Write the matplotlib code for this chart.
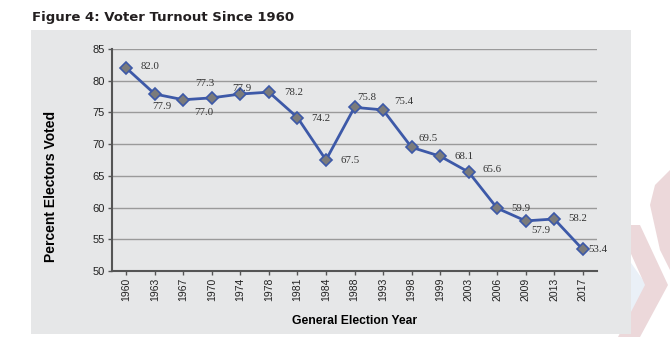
import numpy as np
import matplotlib
matplotlib.use('agg')
import matplotlib.pyplot as plt
from matplotlib.patches import Rectangle, Polygon

#------------------------------------------------------------------------------
# DATA
#------------------------------------------------------------------------------

years = ['1960', '1963', '1967', '1970', '1974', '1978', '1981', '1984', '1988',
         '1993', '1998', '1999', '2003', '2006', '2009', '2013', '2017']
turnout = [82.0, 77.9, 77.0, 77.3, 77.9, 78.2, 74.2, 67.5, 75.8,
           75.4, 69.5, 68.1, 65.6, 59.9, 57.9, 58.2, 53.4]

# label offsets (points) from each marker
label_dx = [17, 5, 15, -5, 1, 18, 17, 17, 9, 15, 12, 17, 17, 17, 11, 17, 11]
label_dy = [1, -9, -9, 10, 4, 0, -1, 0, 7, 6, 6, 0, 2, 0, -7, 0, 0]

#------------------------------------------------------------------------------
# SETTINGS
#------------------------------------------------------------------------------

linecol = '#3d59a8'
panelcol = '#e6e7e8'
gridcol = '#9a9a9a'

fig = plt.figure(figsize=(6.7, 3.37), dpi=100)
fig.patch.set_facecolor('white')

# faint watermark chevrons on the right
W, H = 670.0, 337.0
def fpoly(pts, color):
    xy = [(x / W, 1 - y / H) for x, y in pts]
    fig.patches.append(Polygon(xy, closed=True, transform=fig.transFigure,
                               facecolor=color, edgecolor='none', zorder=-3))
fpoly([(600, 250), (622, 250), (650, 290), (622, 330), (600, 330), (625, 290)], '#eaf0f7')
fpoly([(618, 225), (640, 225), (668, 285), (640, 337), (618, 337), (645, 285)], '#ecd8da')
fpoly([(655, 185), (670, 170), (670, 270), (660, 250), (650, 205)], '#ecd8da')

# grey panel
fig.patches.append(Rectangle((31 / W, 1 - 334 / H), 600 / W, 304 / H,
                             transform=fig.transFigure, facecolor=panelcol,
                             edgecolor='none', zorder=-2))

fig.text(32 / W, 1 - 17 / H, 'Figure 4: Voter Turnout Since 1960', fontsize=9.5,
         fontweight='bold', color='#231f20', family='DejaVu Sans', va='center')

ax = fig.add_axes([112 / W, 1 - 271 / H, 485 / W, 222 / H])
ax.set_facecolor('none')
x = np.arange(len(years))

ax.plot(x, turnout, color=linecol, lw=2, marker='D', markersize=6.5,
        markerfacecolor='#7b7b7b', markeredgecolor=linecol, markeredgewidth=1.2,
        zorder=3)

for i in range(len(years)):
    ax.annotate('%.1f' % turnout[i], (x[i], turnout[i]),
                xytext=(label_dx[i], label_dy[i]), textcoords='offset points',
                ha='center', va='center', fontsize=7.8,
                family='Liberation Serif', color='#333333', zorder=4)

ax.set_xlim(-0.5, len(years) - 0.5)
ax.set_ylim(50, 85)
ax.set_yticks(np.arange(50, 86, 5))
ax.set_xticks(x)
ax.set_xticklabels(years, rotation=90, family='Liberation Sans', fontsize=7.5)
for lab in ax.get_yticklabels():
    lab.set_family('Liberation Sans')
    lab.set_fontsize(8)

ax.yaxis.grid(True, color=gridcol, lw=1)
ax.set_axisbelow(True)
for s in ['top', 'right']:
    ax.spines[s].set_visible(False)
for s in ['left', 'bottom']:
    ax.spines[s].set_color('#555555')
    ax.spines[s].set_linewidth(1.5)
ax.tick_params(axis='both', direction='out', length=3, width=1, color='#555555',
               labelcolor='#222222', pad=2)

ax.set_ylabel('Percent Electors Voted', fontsize=10, fontweight='bold',
              family='Liberation Sans')
ax.yaxis.set_label_coords(-0.112, 0.383)
ax.set_xlabel('General Election Year', fontsize=8.7, fontweight='bold',
              family='Liberation Sans', labelpad=10)

plt.savefig('out.png', dpi=100)
